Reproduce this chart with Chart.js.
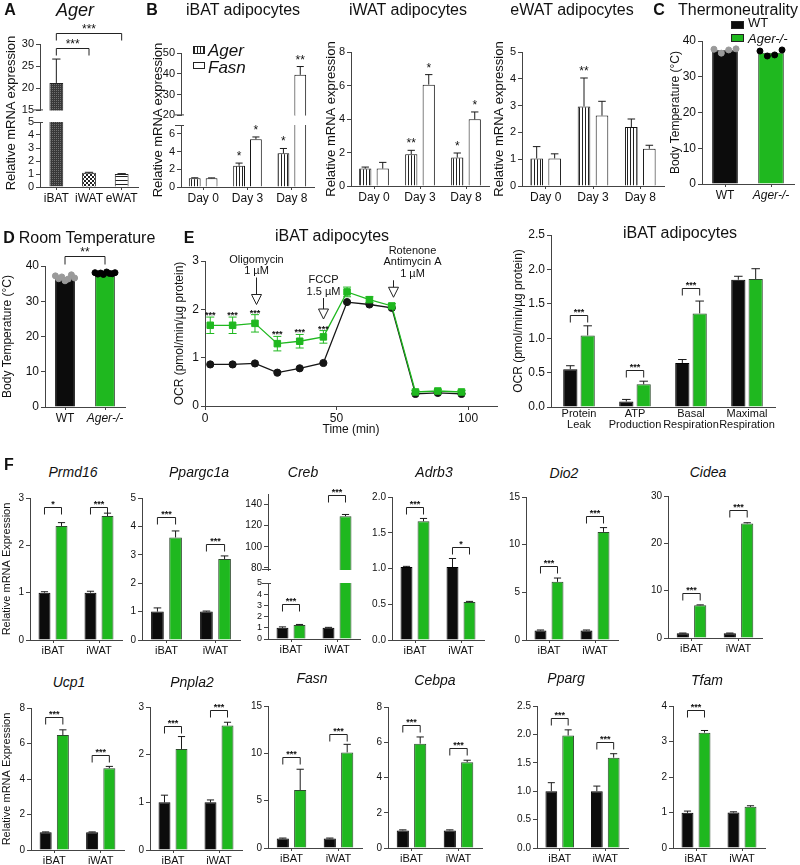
<!DOCTYPE html>
<html>
<head>
<meta charset="utf-8">
<title>Ager knockout adipocyte figure</title>
<script src="https://cdn.jsdelivr.net/npm/chart.js@4.4.1/dist/chart.umd.min.js"></script>
<style>
  body { margin: 0; background: #fff; }
  #fig { position: relative; width: 800px; height: 865px; overflow: hidden;
         font-family: 'Liberation Sans', Arial, sans-serif; color: #111; }
  #fig canvas { position: absolute; }
  .t { position: absolute; white-space: nowrap; line-height: 1; }
  .b { font-weight: bold; }
  .i { font-style: italic; }
  .sw { position: absolute; box-sizing: border-box; border: 1px solid #222; }
</style>
</head>
<body>
<div id="fig"></div>
<script>
// ---------- A: Ager in fat depots ----------
const depots = ['iBAT', 'iWAT', 'eWAT'];
const agerDepot = [21.2, 1.1, 1.0];
const agerDepotErr = [5.4, 0.03, 0.03];
const agerSig = ['***', '***'], agerSigAt = [29.0, 32.4];
const agerLowTicks = [0, 1, 2, 3, 4, 5], agerHighTicks = [15, 20, 25, 30];

// ---------- B: differentiation time course ----------
const days = ['Day 0', 'Day 3', 'Day 8'];
const ibatAger = [1.0, 2.4, 3.8], ibatAgerErr = [0.04, 0.3, 0.55], ibatAgerSig = ['', '*', '*'];
const ibatFasn = [1.0, 5.4, 39.5], ibatFasnErr = [0.03, 0.25, 4.0], ibatFasnSig = ['', '*', '**'];
const iwatAger = [1.04, 1.9, 1.7], iwatAgerErr = [0.09, 0.23, 0.27], iwatAgerSig = ['', '**', '*'];
const iwatFasn = [1.04, 6.05, 3.98], iwatFasnErr = [0.37, 0.6, 0.44], iwatFasnSig = ['', '*', '*'];
const ewatAger = [1.03, 2.97, 2.2], ewatAgerErr = [0.44, 1.06, 0.3], ewatAgerSig = ['', '**', ''];
const ewatFasn = [1.03, 2.63, 1.39], ewatFasnErr = [0.17, 0.53, 0.13];
const ibatLowTicks = [0, 2, 4, 6], ibatHighTicks = [20, 30, 40, 50];
const iwatTicks = [0, 2, 4, 6, 8], ewatTicks = [0, 1, 2, 3, 4, 5];

// ---------- C / D: body temperature ----------
const genotypes = ['WT', 'Ager-/-'];
const tempTicks = [0, 10, 20, 30, 40];
const thermoMean = [37.4, 36.7];
const thermoWT = [37.7, 36.6, 37.5, 37.8];
const thermoKO = [37.2, 35.8, 36.1, 37.5];
const roomMean = [36.8, 37.9];
const roomWT = [37.2, 36.4, 36.9, 35.8, 36.3, 37.5, 36.6];
const roomKO = [38.1, 37.7, 38.0, 37.6, 38.3, 37.9, 37.8, 38.1];
const roomSig = ['**'], roomSigAt = [42.8];

// ---------- E: Seahorse ----------
const ocrTime = [2, 10.5, 19, 27.5, 36, 45, 54, 62.5, 71, 80, 88.5, 97.5];
const ocrWT = [0.86, 0.86, 0.88, 0.69, 0.78, 0.89, 2.15, 2.10, 2.03, 0.25, 0.27, 0.25];
const ocrKO = [1.67, 1.67, 1.71, 1.29, 1.34, 1.43, 2.36, 2.20, 2.07, 0.29, 0.31, 0.29];
const ocrKOErr = [0.17, 0.17, 0.18, 0.15, 0.14, 0.13, 0.10, 0.06, 0.05, 0.03, 0.03, 0.03];
const ocrSig = ['***', '***', '***', '***', '***', '***', '', '', '', '', '', ''];
const ocrTimeTicks = [0, 50, 100], ocrTicks = [0, 1, 2, 3];
const injectionTimes = [19.4, 45, 71.5];
const injectionLabels = [['Oligomycin', '1 µM'], ['FCCP', '1.5 µM'], ['Rotenone', 'Antimycin A', '1 µM']];

const ocrParams = [['Protein', 'Leak'], ['ATP', 'Production'], ['Basal', 'Respiration'], ['Maximal', 'Respiration']];
const paramWT = [0.55, 0.08, 0.64, 1.85], paramWTErr = [0.05, 0.03, 0.05, 0.05];
const paramKO = [1.04, 0.33, 1.36, 1.86], paramKOErr = [0.14, 0.045, 0.18, 0.15];
const paramSig = ['***', '***', '***', ''], paramSigAt = [1.34, 0.535, 1.73, 0];
const paramTicks = [0, 0.5, 1, 1.5, 2, 2.5];

// ---------- F: thermogenic genes, iBAT / iWAT ----------
const fGroups = ['iBAT', 'iWAT'];
const prmd16WT = [1.0, 1.0], prmd16WTErr = [0.02, 0.03], prmd16KO = [2.41, 2.62], prmd16KOErr = [0.07, 0.06];
const prmd16Sig = ['*', '***'], prmd16SigAt = [2.82, 2.82], prmd16Ticks = [0, 1, 2, 3];
const ppargc1aWT = [1.0, 1.0], ppargc1aWTErr = [0.13, 0.02], ppargc1aKO = [3.61, 2.85], ppargc1aKOErr = [0.23, 0.11];
const ppargc1aSig = ['***', '***'], ppargc1aSigAt = [4.33, 3.37], ppargc1aTicks = [0, 1, 2, 3, 4, 5];
const crebWT = [1.0, 1.0], crebWTErr = [0.08, 0.04], crebKO = [1.25, 129], crebKOErr = [0.05, 1.6];
const crebSig = ['***', '***'], crebSigAt = [3.16, 149], crebLowTicks = [0, 1, 2, 3, 4, 5], crebHighTicks = [80, 100, 120, 140];
const adrb3WT = [1.02, 1.02], adrb3WTErr = [0.01, 0.12], adrb3KO = [1.66, 0.53], adrb3KOErr = [0.04, 0.01];
const adrb3Sig = ['***', '*'], adrb3SigAt = [1.86, 1.30], adrb3Ticks = [0, 0.5, 1, 1.5, 2];
const dio2WT = [1.0, 1.0], dio2WTErr = [0.05, 0.05], dio2KO = [6.1, 11.34], dio2KOErr = [0.4, 0.45];
const dio2Sig = ['***', '***'], dio2SigAt = [7.78, 13.0], dio2Ticks = [0, 5, 10, 15];
const cideaWT = [1.0, 1.0], cideaWTErr = [0.05, 0.05], cideaKO = [6.9, 24.2], cideaKOErr = [0.1, 0.15];
const cideaSig = ['***', '***'], cideaSigAt = [9.6, 27.1], cideaTicks = [0, 10, 20, 30];
const ucp1WT = [1.0, 1.0], ucp1WTErr = [0.02, 0.02], ucp1KO = [6.48, 4.61], ucp1KOErr = [0.29, 0.1];
const ucp1Sig = ['***', '***'], ucp1SigAt = [7.5, 5.37], ucp1Ticks = [0, 2, 4, 6, 8];
const pnpla2WT = [1.0, 1.0], pnpla2WTErr = [0.15, 0.05], pnpla2KO = [2.12, 2.61], pnpla2KOErr = [0.26, 0.07];
const pnpla2Sig = ['***', '***'], pnpla2SigAt = [2.61, 2.93], pnpla2Ticks = [0, 1, 2, 3];
const fasnWT = [1.0, 1.0], fasnWTErr = [0.05, 0.05], fasnKO = [6.12, 10.1], fasnKOErr = [2.2, 0.85];
const fasnSig = ['***', '***'], fasnSigAt = [9.58, 12.0], fasnTicks = [0, 5, 10, 15];
const cebpaWT = [1.0, 1.0], cebpaWTErr = [0.03, 0.03], cebpaKO = [5.92, 4.87], cebpaKOErr = [0.38, 0.11];
const cebpaSig = ['***', '***'], cebpaSigAt = [6.97, 5.65], cebpaTicks = [0, 2, 4, 6, 8];
const ppargWT = [1.0, 1.0], ppargWTErr = [0.15, 0.09], ppargKO = [1.98, 1.59], ppargKOErr = [0.1, 0.07];
const ppargSig = ['***', '***'], ppargSigAt = [2.28, 1.87], ppargTicks = [0, 0.5, 1, 1.5, 2, 2.5];
const tfamWT = [0.99, 1.0], tfamWTErr = [0.05, 0.02], tfamKO = [3.25, 1.16], tfamKOErr = [0.06, 0.03];
const tfamSig = ['***', ''], tfamSigAt = [3.9, 0], tfamTicks = [0, 1, 2, 3, 4];

// ---------- style ----------
const FONT = "'Liberation Sans', Arial, sans-serif";
const AXIS = '#444';
const WT_COL = '#0c0c0c';
const KO_COL = '#1fb81f';
const KO_EDGE = '#2e4a2e';
const swarm4 = [-0.24, -0.08, 0.08, 0.24];
const swarm7 = [-0.24, -0.16, -0.08, 0, 0.08, 0.16, 0.24];
const swarm8 = [-0.25, -0.18, -0.11, -0.04, 0.04, 0.11, 0.18, 0.25];

Chart.defaults.font.family = FONT;
Chart.defaults.color = '#111';
Chart.defaults.animation = false;
Chart.defaults.plugins.legend.display = false;
Chart.defaults.plugins.tooltip.enabled = false;

const fig = document.getElementById('fig');

function pattern(w, h, paint) {
  const c = document.createElement('canvas');
  c.width = w; c.height = h;
  const g = c.getContext('2d');
  paint(g);
  return g.createPattern(c, 'repeat');
}
const PAT_DARK = pattern(2, 2, g => { g.fillStyle = '#383838'; g.fillRect(0, 0, 2, 2); g.fillStyle = '#707070'; g.fillRect(0, 0, 1, 1); });
const PAT_CHECK = pattern(4, 4, g => { g.fillStyle = '#fff'; g.fillRect(0, 0, 4, 4); g.fillStyle = '#222'; g.fillRect(0, 0, 2, 2); g.fillRect(2, 2, 2, 2); });
const PAT_HLINES = pattern(1, 4, g => { g.fillStyle = '#fff'; g.fillRect(0, 0, 1, 4); g.fillStyle = '#222'; g.fillRect(0, 0, 1, 1); });
const PAT_VLINES = pattern(3, 1, g => { g.fillStyle = '#fff'; g.fillRect(0, 0, 3, 1); g.fillStyle = '#222'; g.fillRect(0, 0, 1, 1); });

// error bars, significance marks, brackets and injection arrows
const annotFor = new Map();
const valueOf = d => (typeof d === 'object' ? d.y : d);
const annot = {
  id: 'annot',
  beforeDatasetsDraw(chart) {
    const o = annotFor.get(chart.canvas);
    if (!o || !o.err) return;
    const ctx = chart.ctx, y = chart.scales.y;
    ctx.save();
    ctx.lineWidth = 1;
    o.err.forEach((errs, di) => {
      if (!errs) return;
      const vals = chart.data.datasets[di].data;
      chart.getDatasetMeta(di).data.forEach((el, i) => {
        const v = valueOf(vals[i]), e = errs[i];
        if (!e || v < y.min || v > y.max) return;
        const hw = o.cap || el.width * 0.3;
        const hi = y.getPixelForValue(v + e);
        const lo = y.getPixelForValue(o.both ? v - e : v);
        ctx.strokeStyle = (o.errColor && o.errColor[di]) || '#1a1a1a';
        ctx.beginPath();
        ctx.moveTo(el.x, lo); ctx.lineTo(el.x, hi);
        ctx.moveTo(el.x - hw, hi); ctx.lineTo(el.x + hw, hi);
        if (o.both) { ctx.moveTo(el.x - hw, lo); ctx.lineTo(el.x + hw, lo); }
        ctx.stroke();
      });
    });
    ctx.restore();
  },
  afterDatasetsDraw(chart) {
    const o = annotFor.get(chart.canvas);
    if (!o) return;
    const ctx = chart.ctx, y = chart.scales.y, area = chart.chartArea;
    ctx.save();
    ctx.lineWidth = 1;
    ctx.strokeStyle = '#222';
    ctx.fillStyle = '#111';
    ctx.textAlign = 'center';
    ctx.textBaseline = 'alphabetic';
    if (o.stars) {
      ctx.font = o.starFont || '12px ' + FONT;
      o.stars.forEach((marks, di) => {
        if (!marks) return;
        const vals = chart.data.datasets[di].data;
        chart.getDatasetMeta(di).data.forEach((el, i) => {
          const v = valueOf(vals[i]);
          if (!marks[i] || v < y.min || v > y.max) return;
          const e = (o.err && o.err[di] && o.err[di][i]) || 0;
          ctx.fillText(marks[i], el.x, y.getPixelForValue(v + e) + (o.starDy ?? -3));
        });
      });
    }
    ctx.font = o.sigFont || '12px ' + FONT;
    (o.brackets || []).forEach(b => {
      if (b.y < y.min || b.y > y.max + 0.25 * (y.max - y.min)) return;
      const e1 = chart.getDatasetMeta(b.a[0]).data[b.a[1]];
      const e2 = chart.getDatasetMeta(b.b[0]).data[b.b[1]];
      const py = Math.round(y.getPixelForValue(b.y)) + 0.5;
      const leg = o.leg ?? 7;
      ctx.beginPath();
      ctx.moveTo(e1.x, py + leg); ctx.lineTo(e1.x, py); ctx.lineTo(e2.x, py); ctx.lineTo(e2.x, py + leg);
      ctx.stroke();
      ctx.fillText(b.t, (e1.x + e2.x) / 2, py - 1);
    });
    ctx.strokeStyle = AXIS;
    if (o.capTop) {
      ctx.beginPath(); ctx.moveTo(area.left - 6, area.top + 0.5); ctx.lineTo(area.left + 3, area.top + 0.5); ctx.stroke();
    }
    if (o.capBottom) {
      ctx.beginPath(); ctx.moveTo(area.left - 6, area.bottom - 0.5); ctx.lineTo(area.left + 3, area.bottom - 0.5); ctx.stroke();
    }
    (o.arrows || []).forEach(a => {
      const x = Math.round(chart.scales.x.getPixelForValue(a.t)) + 0.5;
      const tip = y.getPixelForValue(a.tip), top = tip - a.len;
      ctx.strokeStyle = '#222';
      ctx.beginPath(); ctx.moveTo(x, top); ctx.lineTo(x, tip - 10); ctx.stroke();
      ctx.fillStyle = '#fff';
      ctx.beginPath();
      ctx.moveTo(x - 5, tip - 10); ctx.lineTo(x + 5, tip - 10); ctx.lineTo(x, tip); ctx.closePath();
      ctx.fill(); ctx.stroke();
      ctx.fillStyle = '#111';
      ctx.font = '11px ' + FONT;
      ctx.textBaseline = 'bottom';
      a.text.forEach((s, k) => ctx.fillText(s, x + a.dx, top - 1 - (a.text.length - 1 - k) * 11.5));
      ctx.textBaseline = 'alphabetic';
    });
    ctx.restore();
  }
};
Chart.register(annot);

function canvasAt(left, top, w, h) {
  const c = document.createElement('canvas');
  c.width = Math.round(w); c.height = Math.round(h);
  c.style.left = Math.round(left) + 'px';
  c.style.top = Math.round(top) + 'px';
  fig.appendChild(c);
  return c;
}

function label(text, x, y, size, cls = '', how = 'c') {
  const d = document.createElement('div');
  d.className = 't ' + cls;
  d.textContent = text;
  d.style.left = x + 'px';
  d.style.top = y + 'px';
  d.style.fontSize = size + 'px';
  d.style.transform = how === 'l' ? 'translateY(-50%)'
    : how === 'v' ? 'translate(-50%,-50%) rotate(-90deg)' : 'translate(-50%,-50%)';
  fig.appendChild(d);
}

function swatch(x, y, w, h, bg) {
  const d = document.createElement('div');
  d.className = 'sw';
  Object.assign(d.style, {left: x + 'px', top: y + 'px', width: w + 'px', height: h + 'px', background: bg});
  fig.appendChild(d);
}

function yAxis(f) {
  return {
    type: 'linear', min: f.min ?? 0, max: f.max,
    afterBuildTicks: s => { s.ticks = f.ticks.map(v => ({value: v})); },
    afterFit: s => { s.width = f.axW; },
    border: {color: AXIS},
    grid: {drawOnChartArea: false, tickLength: 4, color: AXIS},
    ticks: {autoSkip: false, padding: 2, color: '#111', font: {size: f.fs || 11}, callback: f.fmt || (v => v)},
    title: {display: !!f.title, text: f.title || '', color: '#111', font: {size: f.tfs || 12}, padding: 0}
  };
}

// bar chart whose plot area spans ax..right and top..bottom on the page
function barChart(f) {
  const padTop = f.padTop ?? 10, padRight = f.padRight ?? 6;
  const axH = f.axH || 0, padBottom = axH ? 0 : 8;
  const cv = canvasAt(f.ax - f.axW, f.top - padTop,
    f.right - f.ax + f.axW + padRight, f.bottom - f.top + padTop + axH + padBottom);
  annotFor.set(cv, {
    err: f.sets.map(s => s.err), stars: f.sets.map(s => s.stars), brackets: f.brackets,
    capTop: f.capTop, capBottom: f.capBottom, sigFont: f.sigFont, starFont: f.starFont,
    starDy: f.starDy, leg: f.leg
  });
  const datasets = f.sets.map(s => ({
    type: 'bar', xAxisID: 'x', order: 1, data: s.data, grouped: !f.dots,
    backgroundColor: s.fill, borderColor: s.edge || '#111', borderWidth: 1,
    categoryPercentage: f.cat, barPercentage: f.bar, clip: f.clip ? 0 : undefined
  }));
  (f.dots || []).forEach(d => datasets.push({
    type: 'scatter', xAxisID: 'xj', order: 0,
    data: d.values.map((v, k) => ({x: d.at + d.spread[k], y: v})),
    pointRadius: 3, backgroundColor: d.color, borderColor: d.color
  }));
  const xTick = f.xTick !== false;
  return new Chart(cv, {
    type: 'bar',
    data: {labels: f.labels, datasets},
    options: {
      responsive: false,
      layout: {padding: {top: padTop, right: padRight, bottom: padBottom, left: 0}},
      scales: {
        x: {
          type: 'category', offset: true, display: axH > 0,
          afterFit: s => { s.height = axH; },
          border: {color: AXIS},
          grid: {display: xTick, drawTicks: xTick, drawOnChartArea: false, offset: false, tickLength: 3, color: AXIS},
          ticks: {autoSkip: false, maxRotation: 0, padding: 1, color: '#111', font: f.xFont || {size: 12}}
        },
        xj: {type: 'linear', display: false, offset: false, grid: {offset: false}, min: -0.5, max: f.labels.length - 0.5},
        y: yAxis(f)
      }
    }
  });
}

const italicSecond = c => ({size: 12, style: c.index === 1 ? 'italic' : 'normal'});

// ---------- A ----------
{
  const sets = [{data: agerDepot, err: agerDepotErr, fill: [PAT_DARK, PAT_CHECK, PAT_HLINES], edge: '#222'}];
  const common = {labels: depots, sets, ax: 40, right: 138, axW: 40, cat: 0.9, bar: 0.47, clip: true, fs: 11};
  barChart({...common, top: 122, bottom: 187, max: 5, ticks: agerLowTicks, axH: 20, capTop: true});
  barChart({...common, top: 44, bottom: 111, min: 15, max: 30, ticks: agerHighTicks, padTop: 28, capBottom: true,
    brackets: [{a: [0, 0], b: [0, 1], y: agerSigAt[0], t: agerSig[0]}, {a: [0, 0], b: [0, 2], y: agerSigAt[1], t: agerSig[1]}]});
  label('A', 10, 10, 16, 'b');
  label('Ager', 75, 10, 18, 'i');
  label('Relative mRNA expression', 10, 113, 13, '', 'v');
}

// ---------- B ----------
{
  const ibatSets = [
    {data: ibatAger, err: ibatAgerErr, stars: ibatAgerSig, fill: PAT_VLINES},
    {data: ibatFasn, err: ibatFasnErr, stars: ibatFasnSig, fill: '#fff'}
  ];
  const common = {labels: days, sets: ibatSets, ax: 181, right: 314, axW: 26, cat: 0.76, bar: 0.7, clip: true, fs: 11};
  barChart({...common, top: 125, bottom: 186.5, max: 7, ticks: ibatLowTicks, axH: 20, capTop: true});
  barChart({...common, top: 53, bottom: 116, min: 20, max: 50, ticks: ibatHighTicks, capBottom: true});

  barChart({labels: days, ax: 351, right: 489, top: 51.7, bottom: 185.7, axW: 27, axH: 20, max: 8, ticks: iwatTicks,
    cat: 0.76, bar: 0.7, fs: 11, title: 'Relative mRNA expression', tfs: 13,
    sets: [
      {data: iwatAger, err: iwatAgerErr, stars: iwatAgerSig, fill: PAT_VLINES},
      {data: iwatFasn, err: iwatFasnErr, stars: iwatFasnSig, fill: '#fff'}
    ]});
  barChart({labels: days, ax: 522, right: 664, top: 51.7, bottom: 185.7, axW: 30, axH: 20, max: 5, ticks: ewatTicks,
    cat: 0.76, bar: 0.7, fs: 11, title: 'Relative mRNA expression', tfs: 13,
    sets: [
      {data: ewatAger, err: ewatAgerErr, stars: ewatAgerSig, fill: PAT_VLINES},
      {data: ewatFasn, err: ewatFasnErr, fill: '#fff'}
    ]});

  label('B', 152, 10, 16, 'b');
  label('iBAT adipocytes', 243, 10, 16);
  label('iWAT adipocytes', 408, 10, 16);
  label('eWAT adipocytes', 572, 10, 16);
  label('Relative mRNA expression', 157, 120, 13, '', 'v');
  swatch(193, 46, 12, 8, 'repeating-linear-gradient(90deg,#222 0 1px,#fff 1px 3px)');
  label('Ager', 208, 50, 17, 'i', 'l');
  swatch(193, 62, 12, 7, '#fff');
  label('Fasn', 208, 67, 17, 'i', 'l');
}

// ---------- C ----------
barChart({labels: genotypes, ax: 702, right: 795, top: 41, bottom: 184, axW: 34, axH: 18, padRight: 4,
  max: 40, ticks: tempTicks, fs: 12, title: 'Body Temperature (°C)', tfs: 12, cat: 0.9, bar: 0.62,
  xFont: italicSecond,
  sets: [{data: thermoMean, fill: [WT_COL, KO_COL], edge: ['#000', KO_EDGE]}],
  dots: [{values: thermoWT, at: 0, spread: swarm4, color: '#9a9a9a'}, {values: thermoKO, at: 1, spread: swarm4, color: '#000'}]});
label('C', 659, 10, 16, 'b');
label('Thermoneutrality', 678, 10, 16, '', 'l');
swatch(731, 21, 13, 8, WT_COL);
label('WT', 748, 22, 13, '', 'l');
swatch(731, 34, 13, 8, KO_COL);
label('Ager-/-', 748, 38, 13, 'i', 'l');

// ---------- D ----------
barChart({labels: genotypes, ax: 45, right: 125, top: 266, bottom: 407.3, axW: 45, axH: 18, padTop: 26,
  max: 40, ticks: tempTicks, fs: 12, title: 'Body Temperature (°C)', tfs: 12, cat: 0.9, bar: 0.55,
  xFont: italicSecond, leg: 8,
  sets: [{data: roomMean, fill: [WT_COL, KO_COL], edge: ['#000', KO_EDGE]}],
  brackets: [{a: [0, 0], b: [0, 1], y: roomSigAt[0], t: roomSig[0]}],
  dots: [{values: roomWT, at: 0, spread: swarm7, color: '#9a9a9a'}, {values: roomKO, at: 1, spread: swarm8, color: '#000'}]});
label('D', 9, 238, 16, 'b');
label('Room Temperature', 87, 238, 16);

// ---------- E: OCR trace ----------
{
  const padTop = 18, padRight = 6, axW = 33, axH = 32;
  const ax = 205, right = 497, top = 261, bottom = 406;
  const cv = canvasAt(ax - axW, top - padTop, right - ax + axW + padRight, bottom - top + padTop + axH);
  const arrowTip = [2.1, 1.8, 2.25], arrowLen = [27, 21, 17], arrowDx = [0, 0, 19];
  annotFor.set(cv, {
    err: [ocrKOErr, null], both: true, cap: 4, errColor: [KO_COL, '#111'],
    stars: [ocrSig, null], starFont: 'bold 9px ' + FONT, starDy: 1,
    arrows: injectionTimes.map((t, k) => ({t, tip: arrowTip[k], len: arrowLen[k], dx: arrowDx[k], text: injectionLabels[k]}))
  });
  new Chart(cv, {
    type: 'line',
    data: {
      datasets: [
        {data: ocrTime.map((t, i) => ({x: t, y: ocrKO[i]})), borderColor: KO_COL, backgroundColor: KO_COL,
          pointStyle: 'rect', pointRadius: 4.6, borderWidth: 1.3, pointBorderWidth: 1},
        {data: ocrTime.map((t, i) => ({x: t, y: ocrWT[i]})), borderColor: '#151515', backgroundColor: '#151515',
          pointStyle: 'circle', pointRadius: 3.6, borderWidth: 1.3, pointBorderWidth: 1}
      ]
    },
    options: {
      responsive: false,
      layout: {padding: {top: padTop, right: padRight, bottom: 0, left: 0}},
      scales: {
        x: {
          type: 'linear', min: 0, max: 111,
          afterBuildTicks: s => { s.ticks = ocrTimeTicks.map(v => ({value: v})); },
          afterFit: s => { s.height = axH; },
          border: {color: AXIS},
          grid: {drawOnChartArea: false, tickLength: 4, color: AXIS},
          ticks: {padding: 1, color: '#111', font: {size: 12}},
          title: {display: true, text: 'Time (min)', color: '#111', font: {size: 12}, padding: {top: 0, bottom: 1}}
        },
        y: yAxis({min: 0, max: 3, ticks: ocrTicks, axW, fs: 12, title: 'OCR (pmol/min/µg protein)', tfs: 12})
      }
    }
  });
  label('E', 189, 238, 16, 'b');
  label('iBAT adipocytes', 332, 236, 16);
}

// ---------- E: OCR parameters ----------
barChart({labels: ocrParams, ax: 551, right: 775, top: 235, bottom: 406.7, axW: 40, axH: 30, padRight: 14,
  max: 2.5, ticks: paramTicks, fmt: v => v.toFixed(1), fs: 12, title: 'OCR (pmol/min/µg protein)', tfs: 12,
  cat: 0.62, bar: 0.82, xTick: false, xFont: {size: 11, lineHeight: 1.0},
  sigFont: 'bold 9px ' + FONT,
  sets: [
    {data: paramWT, err: paramWTErr, fill: WT_COL, edge: '#000'},
    {data: paramKO, err: paramKOErr, fill: KO_COL, edge: KO_EDGE}
  ],
  brackets: paramSig.map((t, i) => ({a: [0, i], b: [1, i], y: paramSigAt[i], t})).filter(b => b.t)});
label('iBAT adipocytes', 680, 233, 16);

// ---------- F ----------
const fPanels = [
  {name: 'Prmd16', tx: 73, ty: 472, wt: prmd16WT, wtErr: prmd16WTErr, ko: prmd16KO, koErr: prmd16KOErr, sig: prmd16Sig, sigAt: prmd16SigAt,
    ticks: prmd16Ticks, max: 3, ax: 30, right: 122, top: 498, bottom: 640, axW: 30, title: 'Relative mRNA Expression'},
  {name: 'Ppargc1a', tx: 199, ty: 472, wt: ppargc1aWT, wtErr: ppargc1aWTErr, ko: ppargc1aKO, koErr: ppargc1aKOErr, sig: ppargc1aSig, sigAt: ppargc1aSigAt,
    ticks: ppargc1aTicks, max: 5, ax: 142, right: 240, top: 497.7, bottom: 640},
  {name: 'Creb', tx: 303, ty: 472, wt: crebWT, wtErr: crebWTErr, ko: crebKO, koErr: crebKOErr, sig: crebSig, sigAt: crebSigAt,
    ticks: crebLowTicks, max: 5, ax: 268, right: 360, top: 583.3, bottom: 639.6,
    high: {min: 78, max: 150, ticks: crebHighTicks, top: 494.3, bottom: 570.4}},
  {name: 'Adrb3', tx: 434, ty: 472, wt: adrb3WT, wtErr: adrb3WTErr, ko: adrb3KO, koErr: adrb3KOErr, sig: adrb3Sig, sigAt: adrb3SigAt,
    ticks: adrb3Ticks, max: 2, ax: 392, right: 484, top: 496.7, bottom: 640, fmt: v => v.toFixed(1)},
  {name: 'Dio2', tx: 564, ty: 473, wt: dio2WT, wtErr: dio2WTErr, ko: dio2KO, koErr: dio2KOErr, sig: dio2Sig, sigAt: dio2SigAt,
    ticks: dio2Ticks, max: 15, ax: 526, right: 618, top: 496.7, bottom: 640},
  {name: 'Cidea', tx: 708, ty: 472, wt: cideaWT, wtErr: cideaWTErr, ko: cideaKO, koErr: cideaKOErr, sig: cideaSig, sigAt: cideaSigAt,
    ticks: cideaTicks, max: 30, ax: 668, right: 762, top: 496, bottom: 638},
  {name: 'Ucp1', tx: 69, ty: 682, wt: ucp1WT, wtErr: ucp1WTErr, ko: ucp1KO, koErr: ucp1KOErr, sig: ucp1Sig, sigAt: ucp1SigAt,
    ticks: ucp1Ticks, max: 8, ax: 31, right: 124, top: 708.3, bottom: 850, axW: 31, title: 'Relative mRNA Expression'},
  {name: 'Pnpla2', tx: 192, ty: 682, wt: pnpla2WT, wtErr: pnpla2WTErr, ko: pnpla2KO, koErr: pnpla2KOErr, sig: pnpla2Sig, sigAt: pnpla2SigAt,
    ticks: pnpla2Ticks, max: 3, ax: 150, right: 242, top: 707.3, bottom: 850},
  {name: 'Fasn', tx: 312, ty: 678, wt: fasnWT, wtErr: fasnWTErr, ko: fasnKO, koErr: fasnKOErr, sig: fasnSig, sigAt: fasnSigAt,
    ticks: fasnTicks, max: 15, ax: 268, right: 362, top: 706, bottom: 848},
  {name: 'Cebpa', tx: 435, ty: 680, wt: cebpaWT, wtErr: cebpaWTErr, ko: cebpaKO, koErr: cebpaKOErr, sig: cebpaSig, sigAt: cebpaSigAt,
    ticks: cebpaTicks, max: 8, ax: 388, right: 482, top: 706.7, bottom: 848},
  {name: 'Pparg', tx: 566, ty: 678, wt: ppargWT, wtErr: ppargWTErr, ko: ppargKO, koErr: ppargKOErr, sig: ppargSig, sigAt: ppargSigAt,
    ticks: ppargTicks, max: 2.5, ax: 537, right: 628, top: 706, bottom: 848.3, fmt: v => v.toFixed(1)},
  {name: 'Tfam', tx: 707, ty: 680, wt: tfamWT, wtErr: tfamWTErr, ko: tfamKO, koErr: tfamKOErr, sig: tfamSig, sigAt: tfamSigAt,
    ticks: tfamTicks, max: 4, ax: 673, right: 765, top: 706, bottom: 848.3}
];

function geneChart(p) {
  const sets = [
    {data: p.wt, err: p.wtErr, fill: WT_COL, edge: '#000'},
    {data: p.ko, err: p.koErr, fill: KO_COL, edge: KO_EDGE}
  ];
  const brackets = [];
  p.sig.forEach((t, i) => { if (t) brackets.push({a: [0, i], b: [1, i], y: p.sigAt[i], t}); });
  const base = {labels: fGroups, sets, brackets, ax: p.ax, right: p.right, axW: p.axW || 24,
    cat: 0.74, bar: 0.7, fs: 10, xFont: {size: 11}, sigFont: 'bold 9px ' + FONT, leg: 7,
    fmt: p.fmt, title: p.title, tfs: 11};
  if (p.high) {
    barChart({...base, top: p.top, bottom: p.bottom, max: p.max, ticks: p.ticks, axH: 16, clip: true, capTop: true, fs: 9});
    barChart({...base, top: p.high.top, bottom: p.high.bottom, min: p.high.min, max: p.high.max,
      ticks: p.high.ticks, clip: true, capBottom: true});
  } else {
    barChart({...base, top: p.top, bottom: p.bottom, max: p.max, ticks: p.ticks, axH: 16});
  }
  label(p.name, p.tx, p.ty, 14, 'i');
}
fPanels.forEach(geneChart);
label('F', 9, 465, 16, 'b');
</script>
</body>
</html>
